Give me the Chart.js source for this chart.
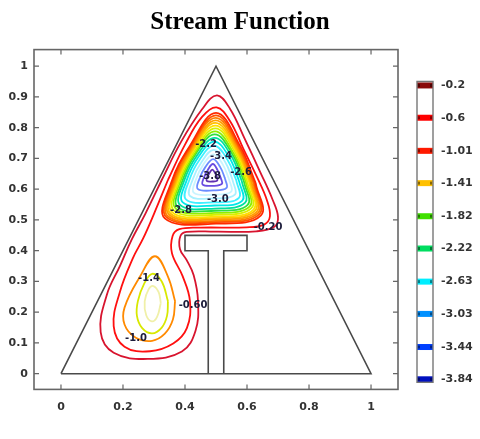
<!DOCTYPE html>
<html><head><meta charset="utf-8">
<script src="https://cdn.jsdelivr.net/npm/chart.js@4"></script>
<style>html,body{margin:0;padding:0;background:#fff;}canvas{display:block;}</style>
</head><body>
<canvas id="c" width="480" height="439"></canvas>
<script>
const xTicks = [0, 0.2, 0.4, 0.6, 0.8, 1];
const xTickLabels = ['0', '0.2', '0.4', '0.6', '0.8', '1'];
const yTicks = [0, 0.1, 0.2, 0.3, 0.4, 0.5, 0.6, 0.7, 0.8, 0.9, 1];
const yTickLabels = ['0', '0.1', '0.2', '0.3', '0.4', '0.5', '0.6', '0.7', '0.8', '0.9', '1'];
const cbLevels = [-0.2, -0.6, -1.01, -1.41, -1.82, -2.22, -2.63, -3.03, -3.44, -3.84];
const cbLabels = ['-0.2', '-0.6', '-1.01', '-1.41', '-1.82', '-2.22', '-2.63', '-3.03', '-3.44', '-3.84'];
const cbColors = ['#8a0a0a', '#ff0000', '#ff1a00', '#ffc000', '#40e000', '#00dd60', '#00eeff', '#0090ff', '#0040ff', '#0010c0'];

const triangle = [[0, 0], [0.5, 1], [1, 0], [0, 0]];
const tShape = [[0.475, 0], [0.475, 0.4], [0.4, 0.4], [0.4, 0.45], [0.6, 0.45], [0.6, 0.4], [0.525, 0.4], [0.525, 0]];

const peanutOuter = [[0.325,0.630],[0.385,0.750],[0.455,0.860],[0.503,0.905],[0.545,0.862],[0.592,0.765],[0.643,0.655],[0.683,0.565],[0.700,0.510],[0.688,0.478],[0.630,0.463],[0.500,0.462],[0.405,0.461],[0.385,0.447],[0.384,0.405],[0.405,0.370],[0.428,0.320],[0.442,0.236],[0.434,0.140],[0.390,0.072],[0.280,0.048],[0.170,0.068],[0.128,0.135],[0.148,0.257],[0.190,0.350],[0.228,0.436],[0.272,0.520]];
const peanutInner = [[0.345,0.630],[0.400,0.745],[0.455,0.835],[0.502,0.866],[0.545,0.822],[0.588,0.732],[0.632,0.640],[0.664,0.565],[0.674,0.512],[0.655,0.485],[0.598,0.476],[0.450,0.475],[0.382,0.470],[0.360,0.448],[0.358,0.392],[0.392,0.318],[0.416,0.236],[0.406,0.148],[0.362,0.098],[0.287,0.073],[0.205,0.088],[0.170,0.155],[0.190,0.266],[0.232,0.376],[0.265,0.440],[0.300,0.520]];
const peanutColors = ['#d8142e', '#ff1010'];

const bottomOrange = [[0.368,0.236],[0.361,0.176],[0.335,0.130],[0.294,0.107],[0.240,0.118],[0.205,0.160],[0.205,0.215],[0.255,0.316],[0.303,0.382],[0.345,0.316]];
const bottomYellow = [[0.345,0.236],[0.342,0.188],[0.325,0.150],[0.294,0.131],[0.262,0.148],[0.245,0.188],[0.248,0.236],[0.268,0.292],[0.294,0.325],[0.325,0.300]];
const bottomPale = [[0.322,0.230],[0.310,0.185],[0.293,0.170],[0.275,0.190],[0.270,0.235],[0.283,0.275],[0.298,0.285],[0.315,0.265]];
const bottomColors = ['#ff8a00', '#d8e800', '#f0f0a8'];

const topLoops = [
 [[0.628,0.620],[0.645,0.515],[0.500,0.488],[0.335,0.505],[0.355,0.620],[0.415,0.740],[0.500,0.848],[0.578,0.740]],
 [[0.624,0.621],[0.640,0.519],[0.500,0.493],[0.340,0.509],[0.359,0.621],[0.417,0.737],[0.500,0.840],[0.575,0.737]],
 [[0.620,0.621],[0.636,0.523],[0.499,0.497],[0.344,0.513],[0.363,0.621],[0.419,0.734],[0.499,0.832],[0.573,0.734]],
 [[0.615,0.622],[0.631,0.526],[0.499,0.502],[0.349,0.517],[0.367,0.622],[0.421,0.731],[0.499,0.824],[0.570,0.731]],
 [[0.611,0.623],[0.626,0.530],[0.498,0.506],[0.353,0.521],[0.371,0.623],[0.424,0.728],[0.498,0.816],[0.567,0.728]],
 [[0.607,0.623],[0.621,0.534],[0.498,0.511],[0.358,0.526],[0.375,0.623],[0.426,0.725],[0.498,0.807],[0.564,0.725]],
 [[0.601,0.624],[0.615,0.539],[0.498,0.517],[0.364,0.531],[0.380,0.624],[0.429,0.721],[0.498,0.798],[0.561,0.721]],
 [[0.596,0.625],[0.609,0.544],[0.497,0.523],[0.370,0.537],[0.385,0.625],[0.432,0.717],[0.497,0.788],[0.557,0.717]],
 [[0.590,0.626],[0.602,0.549],[0.496,0.530],[0.376,0.542],[0.391,0.626],[0.434,0.714],[0.496,0.778],[0.553,0.714]],
 [[0.583,0.627],[0.594,0.556],[0.496,0.537],[0.384,0.549],[0.397,0.627],[0.438,0.709],[0.496,0.767],[0.549,0.709]],
 [[0.574,0.628],[0.585,0.563],[0.495,0.547],[0.393,0.557],[0.405,0.628],[0.442,0.703],[0.495,0.755],[0.543,0.703]],
 [[0.565,0.630],[0.574,0.572],[0.494,0.557],[0.403,0.567],[0.414,0.630],[0.447,0.696],[0.494,0.742],[0.537,0.696]],
 [[0.553,0.632],[0.561,0.582],[0.493,0.570],[0.416,0.578],[0.425,0.632],[0.453,0.688],[0.493,0.728],[0.530,0.688]],
 [[0.542,0.633],[0.549,0.592],[0.492,0.582],[0.428,0.589],[0.436,0.633],[0.459,0.680],[0.492,0.713],[0.522,0.680]],
 [[0.529,0.635],[0.534,0.604],[0.491,0.596],[0.441,0.601],[0.447,0.635],[0.465,0.671],[0.491,0.698],[0.514,0.671]],
 [[0.515,0.638],[0.519,0.617],[0.490,0.611],[0.457,0.615],[0.461,0.638],[0.473,0.662],[0.490,0.682],[0.505,0.662]],
 [[0.503,0.640],[0.504,0.628],[0.488,0.625],[0.470,0.627],[0.472,0.640],[0.479,0.653],[0.488,0.664],[0.497,0.653]]
];
const topColors = ['#ff2a00','#ff5500','#ff7f00','#ffa000','#ffc000','#ffe000','#d8f000','#90ee00','#30e040','#00e0a0','#00e8e8','#40f0ff','#a8f0ff','#c8f4ff','#6a8cff','#6a4ce0','#6030b0'];

const labelText = ['-2.2', '-3.4', '-2.6', '-3.8', '-3.0', '-2.8', '-0.20', '-1.4', '-0.60', '-1.0'];
const labelX = [0.468, 0.516, 0.581, 0.481, 0.506, 0.387, 0.668, 0.284, 0.426, 0.242];
const labelY = [0.746, 0.707, 0.654, 0.642, 0.567, 0.531, 0.475, 0.310, 0.221, 0.116];

const pts = (arr) => arr.map(([x, y]) => ({x, y}));
const closed = (arr) => pts(arr.concat([arr[0]]));
const lineDs = (data, color, width, tension) => ({data, borderColor: color, borderWidth: width, tension, showLine: true, pointRadius: 0, fill: false});

const datasets = [];
datasets.push(lineDs(pts(triangle), '#4a4a4a', 1.6, 0));
datasets.push(lineDs(pts(tShape), '#4a4a4a', 1.6, 0));
datasets.push(lineDs(closed(peanutOuter), peanutColors[0], 1.8, 0.4));
datasets.push(lineDs(closed(peanutInner), peanutColors[1], 1.8, 0.4));
[bottomOrange, bottomYellow, bottomPale].forEach((l, i) => datasets.push(lineDs(closed(l), bottomColors[i], 1.8, 0.4)));
topLoops.forEach((l, i) => datasets.push(lineDs(closed(l), topColors[i], 1.8, 0.4)));

const tickFont = {family: 'DejaVu Sans', size: 11, weight: 'bold'};
const framePlugin = {
  id: 'frame',
  afterDraw(chart) {
    const ctx = chart.ctx, a = chart.chartArea, sx = chart.scales.x, sy = chart.scales.y, cb = chart.scales.cb;
    ctx.save();
    ctx.font = 'bold 10px DejaVu Sans';
    ctx.textAlign = 'center'; ctx.textBaseline = 'middle';
    labelText.forEach((t, i) => {
      ctx.fillStyle = '#1c1c3a';
      ctx.fillText(t, sx.getPixelForValue(labelX[i]), sy.getPixelForValue(labelY[i]));
    });
    ctx.strokeStyle = '#666'; ctx.lineWidth = 1.6;
    ctx.strokeRect(a.left, a.top, a.right - a.left, a.bottom - a.top);
    ctx.lineWidth = 1.2;
    ctx.beginPath();
    xTicks.forEach(v => { const p = sx.getPixelForValue(v); ctx.moveTo(p, a.bottom); ctx.lineTo(p, a.bottom - 5); ctx.moveTo(p, a.top); ctx.lineTo(p, a.top + 5); });
    yTicks.forEach(v => { const p = sy.getPixelForValue(v); ctx.moveTo(a.left, p); ctx.lineTo(a.left + 5, p); ctx.moveTo(a.right, p); ctx.lineTo(a.right - 5, p); });
    ctx.stroke();
    const bx = a.right + 19, bw = 16;
    const top = cb.getPixelForValue(cbLevels[0]) - 4, bot = cb.getPixelForValue(cbLevels[cbLevels.length - 1]) + 3;
    ctx.fillStyle = '#fff'; ctx.fillRect(bx, top, bw, bot - top);
    cbLevels.forEach((v, i) => {
      const p = cb.getPixelForValue(v);
      ctx.fillStyle = cbColors[i];
      ctx.fillRect(bx, p - 3, bw, 6);
      ctx.fillStyle = 'rgba(0,0,0,0.45)';
      ctx.fillRect(bx + 1, p - 1.5, 2, 3); ctx.fillRect(bx + bw - 3, p - 1.5, 2, 3);
    });
    ctx.strokeStyle = '#777'; ctx.lineWidth = 1.4;
    ctx.strokeRect(bx, top, bw, bot - top);
    ctx.restore();
  }
};

new Chart(document.getElementById('c'), {
  type: 'scatter',
  data: {datasets},
  options: {
    responsive: false, animation: false, devicePixelRatio: 1,
    layout: {padding: 0},
    plugins: {
      legend: {display: false}, tooltip: {enabled: false},
      title: {display: true, text: 'Stream Function', color: '#000', font: {family: 'Liberation Serif', size: 25, weight: 'bold', lineHeight: 1.2}, padding: {top: 1, bottom: 12}}
    },
    scales: {
      x: {type: 'linear', position: 'bottom', min: -0.087, max: 1.087,
        grid: {display: false, drawTicks: false}, border: {display: false},
        afterBuildTicks: s => { s.ticks = xTicks.map(v => ({value: v})); },
        afterFit: s => { s.height = 26; },
        ticks: {font: tickFont, color: '#333', padding: 11, maxRotation: 0, autoSkip: false, callback: (v, i) => xTickLabels[i]}},
      y: {type: 'linear', position: 'left', min: -0.051, max: 1.054,
        grid: {display: false, drawTicks: false}, border: {display: false},
        afterBuildTicks: s => { s.ticks = yTicks.map(v => ({value: v})); },
        afterFit: s => { s.width = 34; },
        ticks: {font: tickFont, color: '#333', padding: 6, autoSkip: false, callback: (v, i) => yTickLabels[i]}},
      cb: {type: 'linear', position: 'right', min: -3.965, max: 0.244,
        grid: {display: false, drawTicks: false}, border: {display: false},
        afterBuildTicks: s => { s.ticks = cbLevels.map(v => ({value: v})); },
        afterFit: s => { s.width = 82; },
        ticks: {font: tickFont, color: '#333', padding: 43, autoSkip: false, callback: (v, i) => cbLabels[i]}}
    }
  },
  plugins: [framePlugin]
});
</script>
</body></html>
